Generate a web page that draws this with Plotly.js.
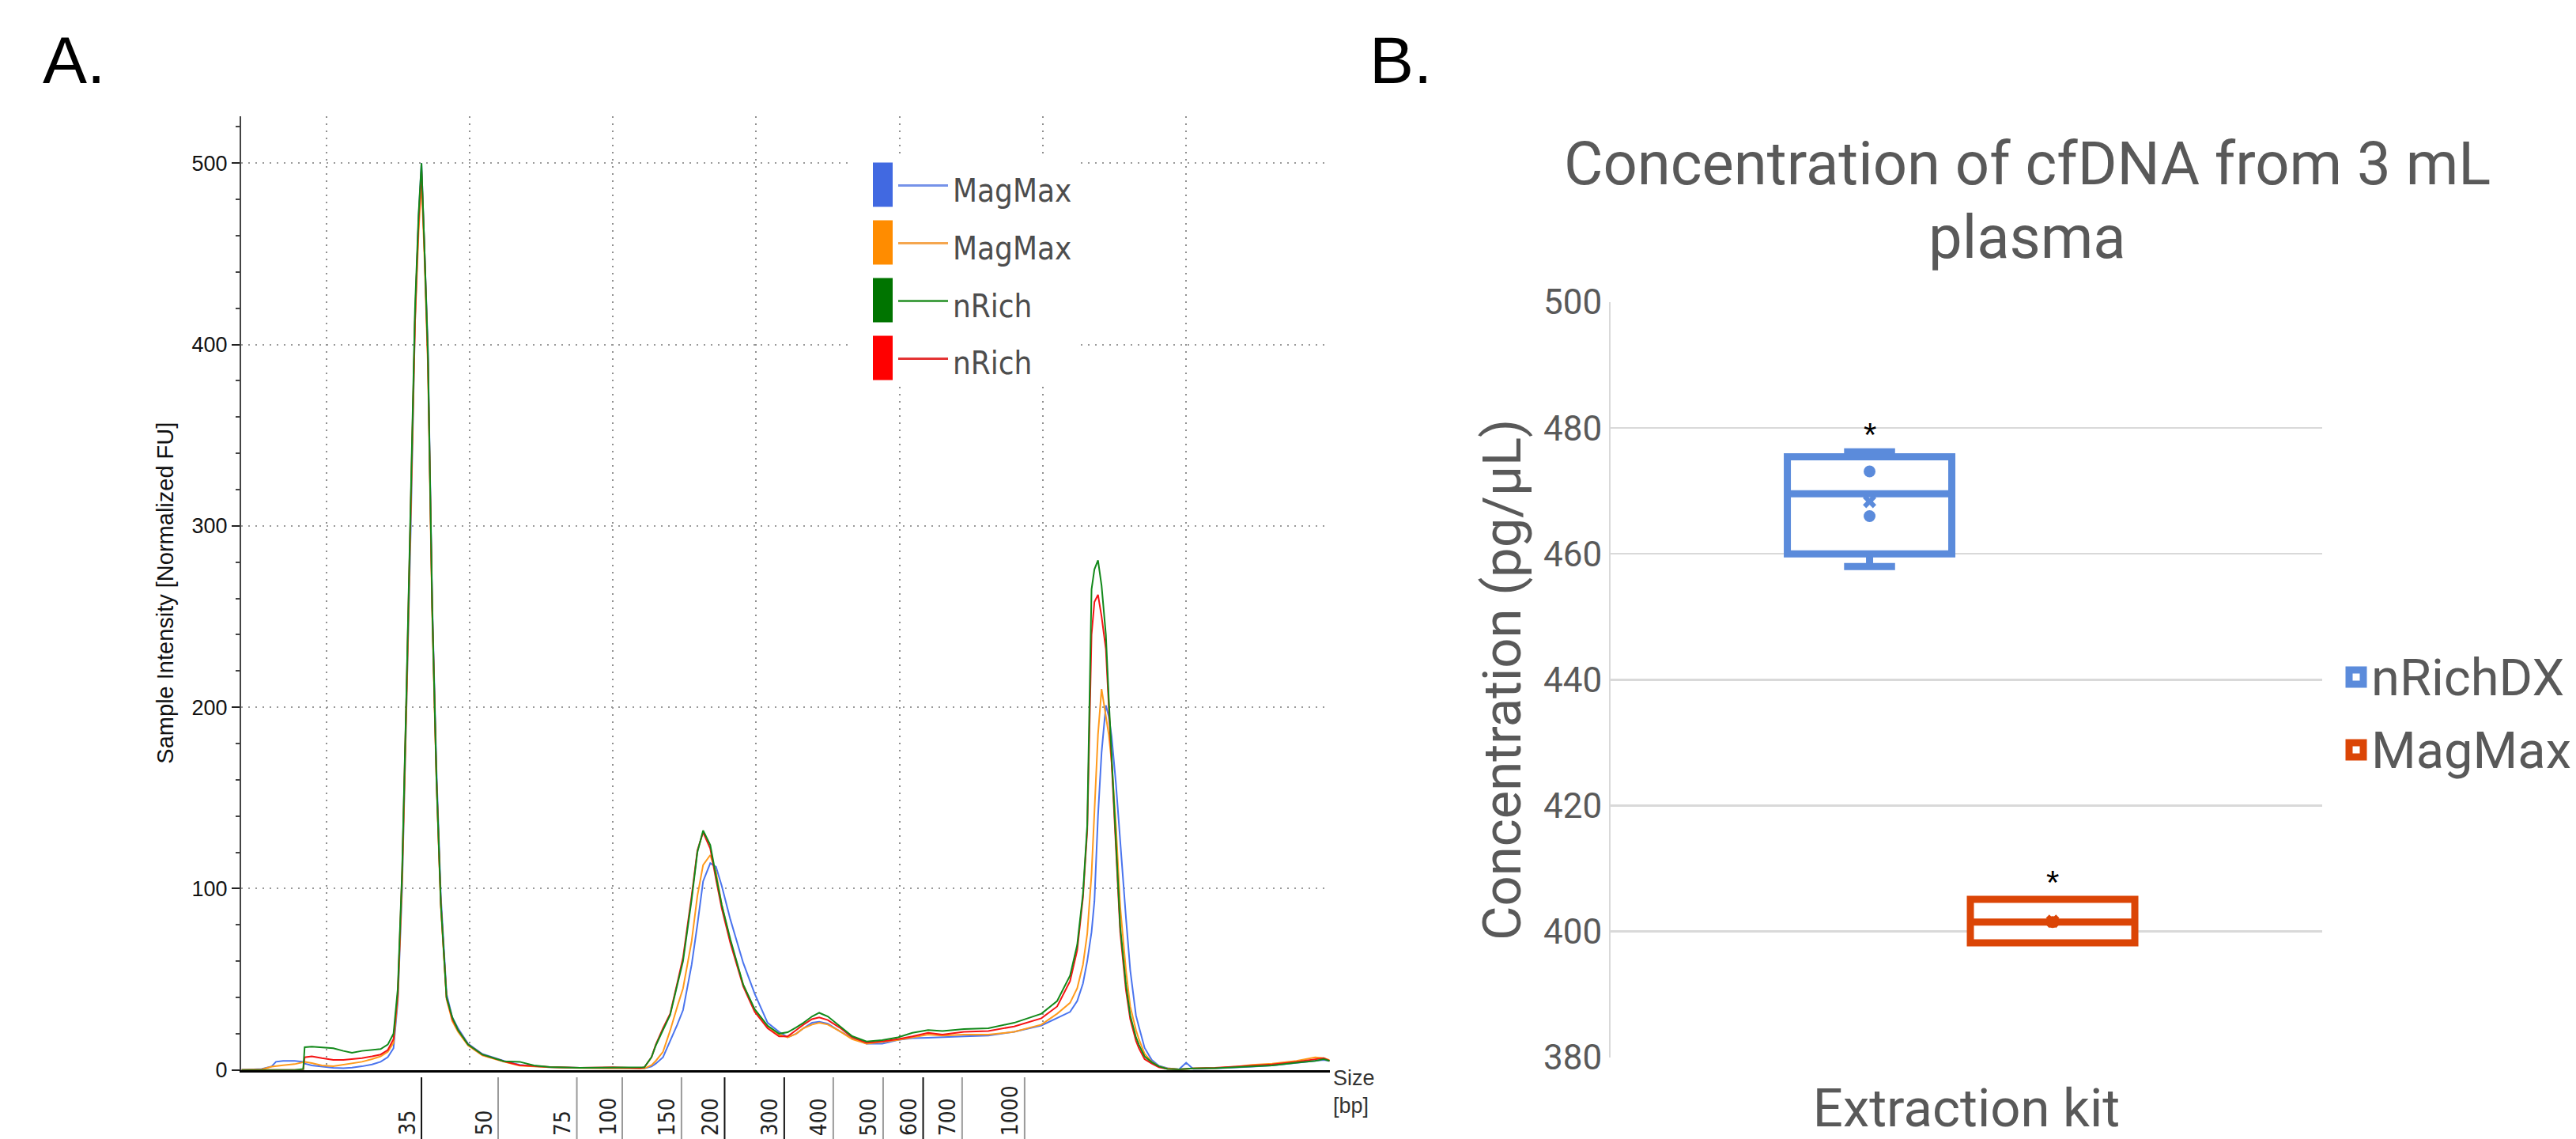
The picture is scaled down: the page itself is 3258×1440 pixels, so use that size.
<!DOCTYPE html>
<html>
<head>
<meta charset="utf-8">
<script src="https://cdn.plot.ly/plotly-3.0.1.min.js"></script>
<style>
html,body{margin:0;padding:0;background:#ffffff;}
#chart{width:3258px;height:1440px;}
</style>
</head>
<body>
<div id="chart"></div>
<script>
// ================= DATA =================
// Panel A: electropherogram (x = migration position, y = Sample Intensity [Normalized FU])
const migrationPos = [0.41,0.55,0.62,0.65,0.70,0.78,0.84,0.85,0.90,0.97,
 1.05,1.12,1.18,1.25,1.32,1.38,1.43,1.47,1.50,1.53,
 1.56,1.59,1.62,1.645,1.665,1.685,1.71,1.74,1.77,1.80,
 1.84,1.88,1.92,1.99,2.09,2.24,2.35,2.45,2.56,2.77,
 3.00,3.19,3.22,3.27,3.30,3.35,3.40,3.45,3.49,3.55,
 3.59,3.63,3.68,3.72,3.76,3.82,3.91,3.99,4.08,4.16,
 4.22,4.28,4.33,4.39,4.44,4.50,4.58,4.67,4.77,4.88,
 4.99,5.09,5.20,5.30,5.45,5.62,5.80,5.99,6.10,6.19,
 6.24,6.28,6.31,6.34,6.36,6.385,6.41,6.44,6.46,6.48,
 6.51,6.54,6.58,6.61,6.65,6.67,6.71,6.76,6.81,6.87,
 6.95,7.00,7.05,7.20,7.35,7.46,7.60,7.77,7.90,7.96,
 8.00];

const traceNames = ['MagMax', 'MagMax', 'nRich', 'nRich'];

const fuMagMax1 = [0,0.5,2,4.5,5,5,4.5,3.5,2.5,1.8,
 1.2,1.0,1.3,2,3,4.5,7,12,38,100,
 200,298,412,470,500,458,398,258,165,96,
 42,29,23,14.5,8.8,5,2.8,2,1.5,1.2,
 1,0.8,0.8,1.9,3.5,7,15.7,25,33,58,
 80,104,114,112,101.5,83,59,42,26,21,
 18,20,23,26,26.6,25.5,21.5,17.5,14.5,14.5,
 16.5,17.5,17.8,18,18.5,19,21,24.5,28.5,32,
 38,47.6,60,76,93,140,175,201,195,184,
 158,125,84,55,30,24,12.2,5.5,2.3,1,
 0.3,4,0.5,0.8,1.2,1.8,2.5,4,5,5.5,
 5];

const fuMagMax2 = [0,0.3,1.8,2.2,2.6,3.2,4,4.4,3.8,2.5,
 2,2.8,3.5,4.5,6,7.5,10,15,40,104,
 200,300,412,462,490,450,388,250,158,90,
 39,27,21,13.5,8,4.5,2.4,1.9,1.5,1.1,
 1,0.8,0.8,2.6,5,10,21.7,35,45,71,
 96,113,118.5,109,91,71,47,33,24,19.5,
 18,20,23,25,26,25,21.5,17,14.5,15.5,
 16.5,18,19.5,19,19.5,19.5,21,25,31,37,
 45,58,75,108,140,185,210,195,185,170,
 135,90,55,35,22,17,9,4.5,2,0.8,
 0.3,0.5,0.8,1,1.8,2.8,3.5,5,7,6.5,
 5.5];

const fuNRich1 = [0,0,0,0,0,0,0.5,12.5,12.8,12.4,
 12,10.5,9.5,10.5,11,11.5,14,20,45,110,
 208,308,420,472,500,455,395,255,160,92,
 40,29,22,14,8.5,4.8,4.5,2.5,1.6,1.2,
 1.2,1.2,1.5,7,13.5,22,30.3,47,60,94,
 120,132,124,107,91,72,47,33.5,24.4,20,
 20.8,23.5,26,29.5,31.5,29.5,24.5,18.6,15.7,16.4,
 18,20.5,22,21.5,22.5,23,26,31,38,52,
 69,97,135,265,276,281,267,240,205,175,
 129,79,47,30,18,14,7.5,4.3,2,0.5,
 0.3,0.5,0.8,1,1.5,2,2.5,4,5,6,
 5];

const fuNRich2 = [0,0,0,0,0,0,0,7,7.5,6.5,
 5.5,5.5,6,6.5,7.5,8.5,11,17,42,108,
 206,305,415,468,496,455,392,255,160,92,
 40,28,22,14,8.4,4.8,2.6,2.2,1.6,1.2,
 1.5,1,1.5,7,14,23,31,48,62,96,
 121,131,122,105,89,70,46,32,23,18.5,
 18.5,22,25,28,29,27.5,23.5,18,15,15.8,
 17,18.5,20.5,19.5,21,21.5,24,28.5,35,49,
 66,95,132,240,258,262,250,232,200,170,
 125,76,44,28,16,12,6,3.5,1.5,0.5,
 0.3,0.6,0.8,1.2,1.8,2.5,3,4.5,6,6.5,
 5];

// Ladder (size markers in bp) and their migration positions
const ladderBp = ['35','50','75','100','150','200','300','400','500','600','700','1000'];
const ladderPos = [1.665,2.200,2.749,3.066,3.479,3.780,4.196,4.538,4.886,5.165,5.437,5.873];

// Panel B: concentration of cfDNA (pg/µL) per extraction kit
const kits = ['nRichDX', 'MagMax'];
const nRichDXConc = [458.0, 466.0, 473.1, 476.2];
const magMaxConc = [398.2, 401.5, 405.1];

// ================= STYLE =================
const W = 3258, H = 1440;
const X = v => v / W;          // pixel -> paper x
const Y = v => 1 - v / H;      // pixel -> paper y

const lineColors = ['#4a74ee', '#ff9a1c', '#12891a', '#f41414'];
const swatchColors = ['#4169e1', '#ff8c00', '#007400', '#ff0000'];
const legendLineColors = ['#7592e9', '#f5a64e', '#45a045', '#e43434'];
const kitColors = ['#5b8bdb', '#db4506'];
const darkLadder = ['35', '200', '300', '600'];
const narrow = 'Liberation Sans Narrow, Arial Narrow, DejaVu Sans Condensed, sans-serif';
const arial = 'Liberation Sans, Arial, sans-serif';
const roboto = 'Roboto, Arial, sans-serif';
const greyTxt = '#595959';

// ================= TRACES =================
const seriesA = [fuMagMax1, fuMagMax2, fuNRich1, fuNRich2];
const drawOrder = [0, 1, 3, 2];
const traces = drawOrder.map(i => ({
  type: 'scatter', mode: 'lines', x: migrationPos, y: seriesA[i], name: traceNames[i],
  line: {color: lineColors[i], width: 2}, xaxis: 'x', yaxis: 'y', hoverinfo: 'skip'
}));

// Excel-style exclusive quartile
function quartileExc(s, p) {
  const n = s.length, h = (n + 1) * p, lo = Math.floor(h), f = h - lo;
  if (lo < 1) return s[0];
  if (lo >= n) return s[n - 1];
  return s[lo - 1] + f * (s[lo] - s[lo - 1]);
}

const kitSeries = [nRichDXConc, magMaxConc];
const kitStats = [];
kitSeries.forEach((vals, k) => {
  const s = [...vals].sort((a, b) => a - b);
  const st = {
    q1: quartileExc(s, 0.25), med: quartileExc(s, 0.5), q3: quartileExc(s, 0.75),
    lo: s[0], hi: s[s.length - 1], mean: s.reduce((a, b) => a + b, 0) / s.length, inner: s.slice(1, -1)
  };
  kitStats.push(st);
  traces.push({
    type: 'box', name: kits[k], x: [kits[k]], q1: [st.q1], median: [st.med], q3: [st.q3],
    lowerfence: [st.lo], upperfence: [st.hi], xaxis: 'x2', yaxis: 'y2',
    fillcolor: '#ffffff', line: {color: kitColors[k], width: 9}, whiskerwidth: 0.31, hoverinfo: 'skip'
  });
  traces.push({
    type: 'scatter', mode: 'markers', x: st.inner.map(() => kits[k]), y: st.inner,
    marker: {size: 15, color: kitColors[k]}, xaxis: 'x2', yaxis: 'y2', hoverinfo: 'skip'
  });
  traces.push({
    type: 'scatter', mode: 'markers', x: [kits[k]], y: [st.mean],
    marker: {symbol: 'x', size: 15, color: kitColors[k], line: {width: 0}}, xaxis: 'x2', yaxis: 'y2', hoverinfo: 'skip'
  });
});

// ================= SHAPES & ANNOTATIONS =================
const shapes = [];
const annotations = [];

// ladder tick lines + rotated labels
ladderBp.forEach((bp, i) => {
  shapes.push({type: 'line', xref: 'x', yref: 'paper', x0: ladderPos[i], x1: ladderPos[i],
    y0: Y(1362), y1: Y(1445), line: {color: darkLadder.includes(bp) ? '#111111' : '#9a9a9a', width: 2}});
  annotations.push({x: ladderPos[i], xref: 'x', y: Y(1438), yref: 'paper', text: bp, textangle: -90,
    xanchor: 'right', yanchor: 'bottom', xshift: 0, showarrow: false,
    font: {family: narrow, size: 28, color: '#222'}});
});

// Panel A legend (custom)
shapes.push({type: 'rect', xref: 'paper', yref: 'paper', x0: X(1074), x1: X(1362), y0: Y(483), y1: Y(200),
  fillcolor: '#ffffff', line: {width: 0}});
traceNames.forEach((nm, i) => {
  const cy = 233.5 + 73 * i;
  shapes.push({type: 'rect', xref: 'paper', yref: 'paper', x0: X(1104), x1: X(1129), y0: Y(cy + 28), y1: Y(cy - 28),
    fillcolor: swatchColors[i], line: {width: 0}});
  shapes.push({type: 'line', xref: 'paper', yref: 'paper', x0: X(1136), x1: X(1199), y0: Y(cy + 1), y1: Y(cy + 1),
    line: {color: legendLineColors[i], width: 3}});
  annotations.push({x: X(1203), y: Y(cy + 7), xref: 'paper', yref: 'paper', xanchor: 'left', yanchor: 'middle',
    text: nm, showarrow: false, font: {family: narrow, size: 40, color: '#4d4d4d'}});
});

// Panel B legend (custom)
kits.forEach((nm, k) => {
  const cy = 856 + 92 * k;
  shapes.push({type: 'rect', xref: 'paper', yref: 'paper', x0: X(2971), x1: X(2989), y0: Y(cy + 9), y1: Y(cy - 9),
    fillcolor: '#ffffff', line: {color: kitColors[k], width: 9}});
  annotations.push({x: X(2997), y: Y(cy + 1), xref: 'paper', yref: 'paper', xanchor: 'left', yanchor: 'middle',
    text: nm, showarrow: false, font: {family: roboto, size: 65, color: greyTxt}});
});

// asterisks above boxes
kits.forEach((nm, k) => {
  annotations.push({x: nm, xref: 'x2', y: kitStats[k].hi, yref: 'y2', text: '*', showarrow: false,
    xanchor: 'center', yanchor: 'bottom', yshift: -4, font: {family: arial, size: 42, color: '#000'}});
});

// panel labels, titles, axis unit label
annotations.push({x: X(52), y: Y(76), xref: 'paper', yref: 'paper', xanchor: 'left', yanchor: 'middle',
  text: 'A.', showarrow: false, font: {family: arial, size: 84, color: '#000'}});
annotations.push({x: X(1730), y: Y(76), xref: 'paper', yref: 'paper', xanchor: 'left', yanchor: 'middle',
  text: 'B.', showarrow: false, font: {family: arial, size: 84, color: '#000'}});
annotations.push({x: X(2564), y: Y(207), xref: 'paper', yref: 'paper', xanchor: 'center', yanchor: 'middle',
  text: 'Concentration of cfDNA from 3 mL', showarrow: false, font: {family: roboto, size: 76, color: greyTxt}});
annotations.push({x: X(2564), y: Y(300), xref: 'paper', yref: 'paper', xanchor: 'center', yanchor: 'middle',
  text: 'plasma', showarrow: false, font: {family: roboto, size: 76, color: greyTxt}});
annotations.push({x: X(1684), y: Y(1346), xref: 'paper', yref: 'paper', xanchor: 'left', yanchor: 'top', align: 'left',
  text: 'Size<br>[bp]', showarrow: false, font: {family: arial, size: 27, color: '#333'}});

// ================= LAYOUT =================
const layout = {
  width: W, height: H,
  margin: {l: 0, r: 0, t: 0, b: 0, pad: 0},
  paper_bgcolor: '#ffffff', plot_bgcolor: 'rgba(0,0,0,0)',
  showlegend: false,
  font: {family: arial, color: '#111'},
  boxmode: 'overlay', boxgap: 0.1015, boxgroupgap: 0,
  xaxis: {
    domain: [X(305), X(1682)], anchor: 'y', range: [0.407, 8.003],
    showline: true, linecolor: '#000', linewidth: 3, ticks: '', showticklabels: false,
    showgrid: true, tick0: 0, dtick: 1, gridcolor: '#8f8f8f', gridwidth: 2, griddash: '2px,7px',
    zeroline: false
  },
  yaxis: {
    domain: [Y(1352.7), Y(146.6)], anchor: 'x', range: [0, 526],
    showline: true, linecolor: '#444', linewidth: 2,
    ticks: 'outside', ticklen: 10, tickwidth: 2, tickcolor: '#222', tick0: 0, dtick: 100,
    minor: {dtick: 20, ticks: 'outside', ticklen: 5, tickwidth: 2, tickcolor: '#444', showgrid: false},
    showgrid: true, gridcolor: '#9a9a9a', gridwidth: 2, griddash: '2px,7px', zeroline: false,
    tickfont: {family: arial, size: 27, color: '#111'},
    title: {text: 'Sample Intensity [Normalized FU]', font: {family: arial, size: 29, color: '#111'}, standoff: 14}
  },
  xaxis2: {
    domain: [X(2037), X(2937)], anchor: 'y2', type: 'category', range: [-1.415, 2.473],
    showticklabels: false, ticks: '', showgrid: false, showline: false, zeroline: false,
    title: {text: 'Extraction kit', font: {family: roboto, size: 67, color: greyTxt}, standoff: 50}
  },
  yaxis2: {
    domain: [Y(1336.7), Y(382)], anchor: 'x2', range: [380, 500], tick0: 0, dtick: 20,
    showgrid: true, gridcolor: '#d9d9d9', gridwidth: 2.5,
    showline: true, linecolor: '#d9d9d9', linewidth: 2, ticks: '', zeroline: false,
    tickfont: {family: roboto, size: 44, color: greyTxt},
    title: {text: 'Concentration (pg/µL)', font: {family: roboto, size: 67, color: greyTxt}, standoff: 7}
  },
  shapes: shapes,
  annotations: annotations
};

Plotly.newPlot('chart', traces, layout, {displayModeBar: false, staticPlot: true});
</script>
</body>
</html>
